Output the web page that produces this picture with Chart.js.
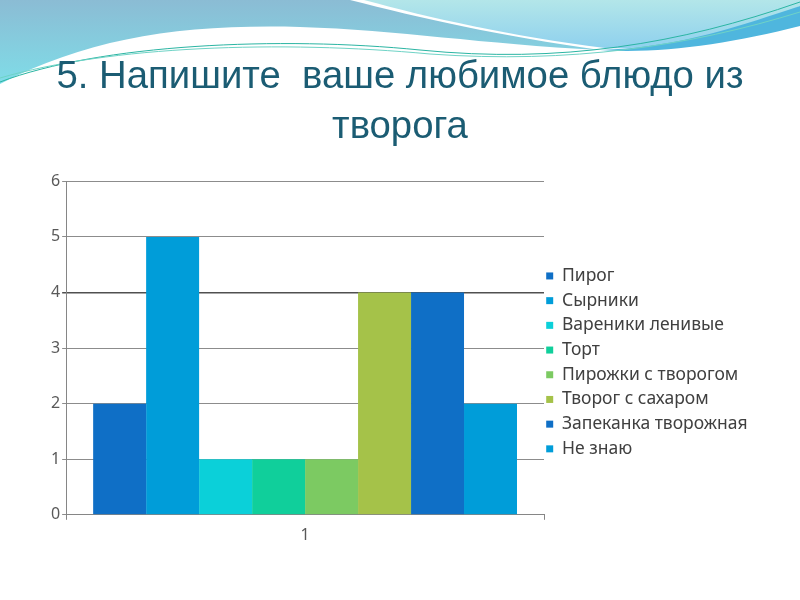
<!DOCTYPE html>
<html>
<head>
<meta charset="utf-8">
<script src="https://cdn.jsdelivr.net/npm/chart.js@4"></script>
<style>
  html, body { margin: 0; padding: 0; background: #ffffff; }
  #wrap { width: 800px; height: 600px; position: relative; }
</style>
</head>
<body>
<div id="wrap"><canvas id="chart" width="800" height="600"></canvas></div>
<script>
const categories = ['1'];
const seriesNames = ['Пирог', 'Сырники', 'Вареники ленивые', 'Торт', 'Пирожки с творогом', 'Творог с сахаром', 'Запеканка творожная', 'Не знаю'];
const seriesValues = [2, 5, 1, 1, 1, 4, 4, 2];
const seriesColors = ['#0f6fc6', '#009dd9', '#0bd0d9', '#10cf9b', '#7cca62', '#a5c249', '#0f6fc6', '#009dd9'];
const yTicks = [0, 1, 2, 3, 4, 5, 6];
const titleLines = ['5. Напишите  ваше любимое блюдо из', 'творога'];

// wavy slide header painted behind the chart
const waves = {
  id: 'waves',
  beforeDraw(chart) {
    const c = chart.ctx;
    c.save();
    c.fillStyle = '#ffffff';
    c.fillRect(0, 0, chart.width, chart.height);

    // big left swoosh
    let g = c.createLinearGradient(0, 0, 0, 85);
    g.addColorStop(0, '#8bbcd4');
    g.addColorStop(1, '#7fdde8');
    c.fillStyle = g;
    c.beginPath();
    c.moveTo(0, 0);
    c.lineTo(350, 0);
    c.bezierCurveTo(420, 18, 500, 36, 600, 50);
    c.bezierCurveTo(480, 44, 400, 30, 300, 27);
    c.bezierCurveTo(180, 24, 90, 38, 0, 84);
    c.closePath();
    c.fill();

    // light cyan top-right
    g = c.createLinearGradient(0, 0, 0, 52);
    g.addColorStop(0, '#b3e6e9');
    g.addColorStop(1, '#8ccfee');
    c.fillStyle = g;
    c.beginPath();
    c.moveTo(364, 0);
    c.lineTo(800, 0);
    c.lineTo(800, 6);
    c.bezierCurveTo(730, 38, 670, 50, 605, 48);
    c.bezierCurveTo(510, 36, 430, 18, 364, 0);
    c.closePath();
    c.fill();

    // darker band under it on the right
    c.fillStyle = '#4fb6de';
    c.beginPath();
    c.moveTo(600, 50);
    c.bezierCurveTo(680, 48, 745, 24, 800, 6);
    c.lineTo(800, 26);
    c.bezierCurveTo(730, 44, 660, 54, 600, 50);
    c.closePath();
    c.fill();

    // thin green lines
    c.lineWidth = 1;
    c.strokeStyle = '#2bb5a3';
    c.beginPath();
    c.moveTo(0, 82);
    c.bezierCurveTo(100, 44, 280, 36, 420, 50);
    c.bezierCurveTo(560, 64, 680, 44, 800, 2);
    c.stroke();
    c.strokeStyle = '#6fd3c6';
    c.beginPath();
    c.moveTo(0, 78);
    c.bezierCurveTo(110, 46, 280, 40, 430, 54);
    c.bezierCurveTo(570, 64, 690, 46, 800, 12);
    c.stroke();
    c.restore();
  }
};

// fixed legend width so the plot ends where the slide's does,
// then move the column to the slide's spot
const legendPlace = {
  id: 'legendPlace',
  beforeUpdate(chart) {
    const lg = chart.legend;
    if (lg && !lg._fixedFit) {
      const orig = lg.fit;
      lg.fit = function () { orig.call(this); this.width = 207; };
      lg._fixedFit = true;
    }
  },
  afterLayout(chart) {
    const lg = chart.legend;
    lg.left = 539; lg.right = 800;
    lg.top = 260; lg.bottom = 540;
  }
};

const datasets = seriesNames.map((name, i) => ({
  label: name,
  data: [seriesValues[i]],
  backgroundColor: seriesColors[i],
  borderWidth: 0,
  categoryPercentage: 0.887,
  barPercentage: 1
}));

new Chart(document.getElementById('chart'), {
  type: 'bar',
  data: { labels: categories, datasets: datasets },
  plugins: [waves, legendPlace],
  options: {
    responsive: false,
    animation: false,
    devicePixelRatio: 1,
    layout: { padding: { left: 49, right: 49, top: 0, bottom: 49 } },
    plugins: {
      title: {
        display: true,
        text: titleLines,
        color: '#1b5c73',
        font: { family: '"Liberation Sans", Arial', size: 38.3, weight: 'normal', lineHeight: 1.31 },
        padding: { top: 52, bottom: 29 }
      },
      legend: {
        position: 'right',
        align: 'start',
        labels: {
          boxWidth: 7,
          boxHeight: 7,
          padding: 7.2,
          color: '#404040',
          font: { family: '"Noto Sans", "Open Sans", sans-serif', size: 17.5 }
        }
      },
      tooltip: { enabled: false }
    },
    scales: {
      x: {
        grid: { offset: true, drawOnChartArea: false, drawTicks: true, tickLength: 5, color: '#868686' },
        border: { color: '#868686' },
        ticks: { color: '#595959', padding: 6, font: { family: '"Noto Sans", sans-serif', size: 16 } }
      },
      y: {
        min: 0,
        max: 6,
        afterBuildTicks: (axis) => { axis.ticks = yTicks.map(v => ({ value: v })); },
        grid: {
          color: (ctx) => ctx.tick && ctx.tick.value === 4 ? '#505050' : '#8c8c8c',
          lineWidth: (ctx) => ctx.tick && ctx.tick.value === 4 ? 1.5 : 1,
          tickLength: 4
        },
        border: { color: '#868686' },
        ticks: { color: '#595959', padding: 2, font: { family: '"Noto Sans", sans-serif', size: 16 } }
      }
    }
  }
});
</script>
</body>
</html>
